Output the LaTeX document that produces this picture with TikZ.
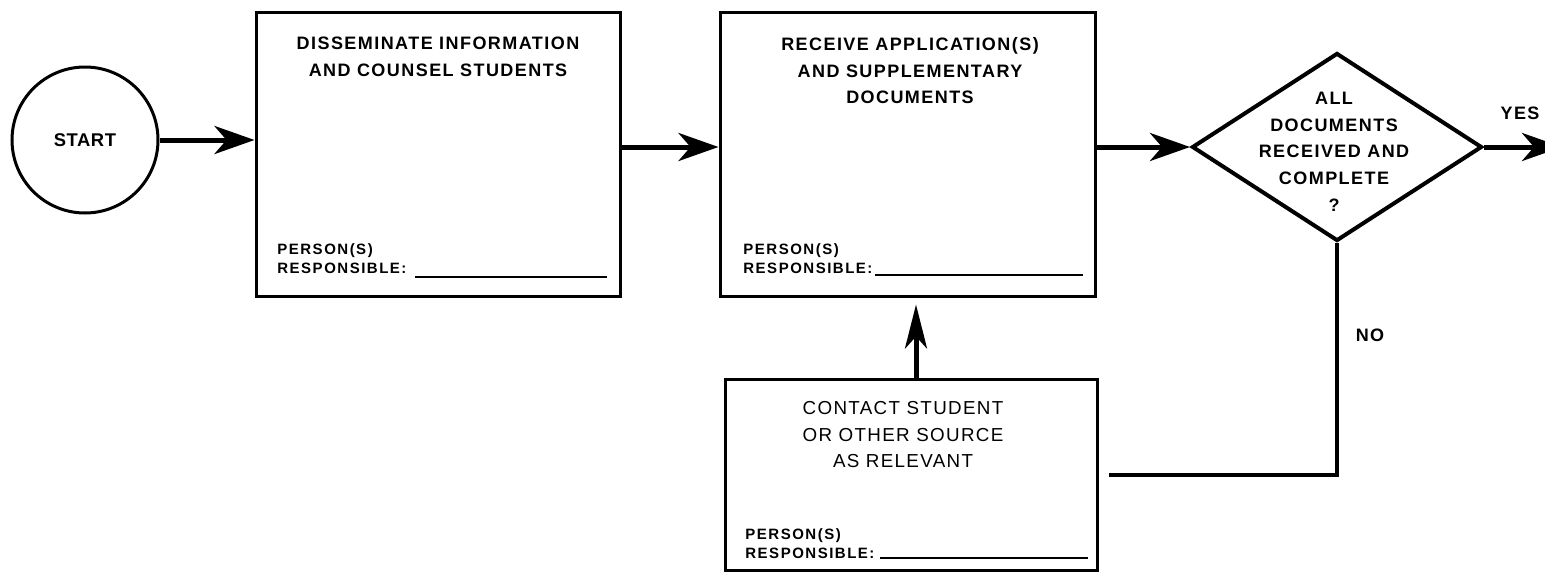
\documentclass[tikz,border=0pt]{standalone}
\usepackage{fontspec}
\usetikzlibrary{shapes.geometric,arrows.meta}
\newfontfamily\titlefont{Liberation Sans}[LetterSpace=8]
\newfontfamily\notefont{Liberation Sans}[LetterSpace=10]
\newfontfamily\startfont{Liberation Sans}[LetterSpace=3]
\newfontfamily\plainfont{Liberation Sans}[LetterSpace=7]
\begin{document}
\begin{tikzpicture}[x=0.5pt,y=-0.5pt,
  procbox/.style={draw, line width=1.5pt, inner sep=0pt},
  title/.style={font=\titlefont\bfseries\fontsize{9}{13.3}\selectfont, align=center, inner sep=0pt},
  contacttext/.style={font=\plainfont\fontsize{9.4}{13.3}\selectfont, align=center, inner sep=0pt},
  note/.style={font=\notefont\bfseries\fontsize{7.5}{9.75}\selectfont, align=left, inner sep=0pt},
  flow/.style={line width=2.5pt, -{Stealth[length=20pt,width=14pt,inset=6pt]}},
  upflow/.style={line width=2.5pt, -{Stealth[length=22pt,width=11pt,inset=6pt]}},
  loopline/.style={line width=2pt},
  uline/.style={line width=1.1pt}]
\useasboundingbox (0,0) rectangle (1545,573);

% shapes
\node[circle, draw, line width=1.5pt, minimum size=73pt, inner sep=0pt,
      font=\startfont\bfseries\fontsize{9.2}{11}\selectfont] (start) at (85,140) {START};
\node[procbox, minimum width=182pt, minimum height=142pt] (b1) at (438,154) {};
\node[procbox, minimum width=187.5pt, minimum height=142pt] (b2) at (907.5,154) {};
\node[procbox, minimum width=186pt, minimum height=95.5pt] (b3) at (911,474.5) {};
\node[diamond, draw, line width=2pt, minimum width=145pt, minimum height=94pt, inner sep=0pt] (dia) at (1337,147) {};

% box texts
\node[title, anchor=north] (t1) at (438,37) {DISSEMINATE INFORMATION\\AND COUNSEL STUDENTS};
\node[title, anchor=north] (t2) at (910,37) {RECEIVE APPLICATION(S)\\AND SUPPLEMENTARY\\DOCUMENTS};
\node[contacttext, anchor=north] (t3) at (903,401) {CONTACT STUDENT\\OR OTHER SOURCE\\AS RELEVANT};
\node[title, anchor=north] (t4) at (1334,92) {ALL\\DOCUMENTS\\RECEIVED AND\\COMPLETE\\?};

\node[note, anchor=north west] (n1) at (277,243) {PERSON(S)\\RESPONSIBLE:};
\node[note, anchor=north west] (n2) at (743,243) {PERSON(S)\\RESPONSIBLE:};
\node[note, anchor=north west] (n3) at (745,528) {PERSON(S)\\RESPONSIBLE:};
\draw[uline] (415,277) -- (607,277);
\draw[uline] (875,275) -- (1083,275);
\draw[uline] (880,558) -- (1088,558);

% branch labels
\node[title] (yes) at (1520,113) {YES};
\node[title] (no) at (1370,335) {NO};

% connectors
\coordinate (yesend) at (1562,147);
\draw[flow] (start.east) -- (b1.west |- start.east);
\draw[flow] (b1.east |- dia.west) -- (b2.west |- dia.west);
\draw[flow] (b2.east |- dia.west) -- (dia.west);
\draw[flow] (dia.east) -- (yesend);
\draw[upflow, shorten >=3.5pt] ([xshift=2.5pt]b3.north) -- ([xshift=2.5pt]b3.north |- b2.south);
\draw[loopline] (dia.south) |- ([xshift=5pt]b3.east);
\end{tikzpicture}
\end{document}
